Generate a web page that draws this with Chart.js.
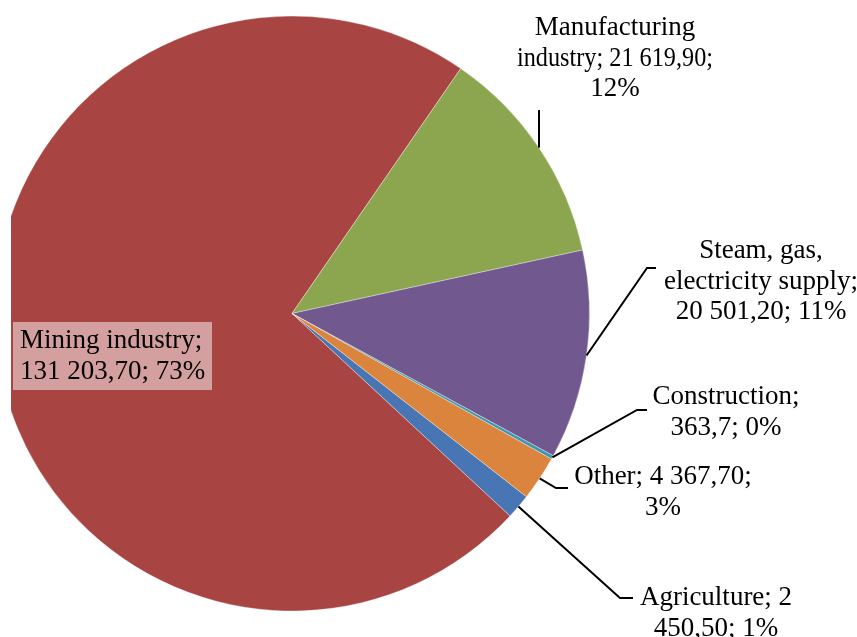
<!DOCTYPE html>
<html>
<head>
<meta charset="utf-8">
<script src="https://cdn.jsdelivr.net/npm/chart.js@4.4.0/dist/chart.umd.min.js"></script>
<style>
  html, body { margin: 0; padding: 0; background: #fff; }
  #wrap { position: relative; width: 857px; height: 637px; }
</style>
</head>
<body>
<div id="wrap"><canvas id="pie-chart" width="857" height="637"></canvas></div>
<script>
// data, in the order the slices go round (clockwise from the rotation angle)
var categories = ['Agriculture', 'Mining industry', 'Manufacturing industry',
                  'Steam, gas, electricity supply', 'Construction', 'Other'];
var values = [2450.5, 131203.7, 21619.9, 20501.2, 363.7, 4367.7];
var labelLines = [
    ['Agriculture; 2', '450,50; 1%'],
    ['Mining industry;', '131 203,70; 73%'],
    ['Manufacturing', 'industry; 21 619,90;', '12%'],
    ['Steam, gas,', 'electricity supply;', '20 501,20; 11%'],
    ['Construction;', '363,7; 0%'],
    ['Other; 4 367,70;', '3%']
];
var sliceColors = ['#4876B4', '#A84543', '#8BA64E', '#71588F', '#3E96B0', '#DB843D'];

// where each label sits and how its leader line bends
var labelPlace = [
    { x: 716, y: 598, align: 'center', elbow: [620, 598], end: [633, 598] },
    { x: 20,  y: 341, align: 'left', box: [13, 322, 199, 68] },
    { x: 615, y: 28,  align: 'center', elbow: [null, 110], squeeze: 0.9 },
    { x: 761, y: 251, align: 'center', elbow: [647, 268], end: [656, 268] },
    { x: 726, y: 397, align: 'center', elbow: [637, 410], end: [647, 410] },
    { x: 663, y: 477, align: 'center', elbow: [556, 488], end: [568, 488] }
];

var labelFont = '27px "Liberation Serif", "Times New Roman", serif';
var lineHeight = 30.5;

var clipLeft = {
    id: 'clipLeft',
    beforeDatasetsDraw: function(chart) {
        var ctx = chart.ctx;
        ctx.save();
        ctx.beginPath();
        ctx.rect(11, 0, chart.width - 11, chart.height);
        ctx.clip();
    },
    afterDatasetsDraw: function(chart) {
        chart.ctx.restore();
    }
};

var sliceLabels = {
    id: 'sliceLabels',
    afterDraw: function(chart) {
        var ctx = chart.ctx;
        var arcs = chart.getDatasetMeta(0).data;
        ctx.save();
        ctx.font = labelFont;
        ctx.textBaseline = 'middle';
        arcs.forEach(function(arc, i) {
            var p = labelPlace[i];
            var mid = (arc.startAngle + arc.endAngle) / 2;
            var ax = arc.x + Math.cos(mid) * arc.outerRadius;
            var ay = arc.y + Math.sin(mid) * arc.outerRadius;

            if (p.elbow) {
                var ex = p.elbow[0] === null ? ax : p.elbow[0];
                ctx.strokeStyle = '#000';
                ctx.lineWidth = 2;
                ctx.beginPath();
                ctx.moveTo(ax, ay);
                ctx.lineTo(ex, p.elbow[1]);
                if (p.end) ctx.lineTo(p.end[0], p.end[1]);
                ctx.stroke();
            }
            if (p.box) {
                ctx.fillStyle = '#D4A09F';
                ctx.fillRect(p.box[0], p.box[1], p.box[2], p.box[3]);
            }
            ctx.fillStyle = '#000';
            ctx.textAlign = p.align;
            labelLines[i].forEach(function(line, k) {
                var y = p.y + k * lineHeight;
                if (p.squeeze) {
                    var w = ctx.measureText(line).width;
                    ctx.fillText(line, p.x, y, Math.min(w, 196));
                } else {
                    ctx.fillText(line, p.x, y);
                }
            });
        });
        ctx.restore();
    }
};

new Chart(document.getElementById('pie-chart'), {
    type: 'pie',
    data: {
        labels: categories,
        datasets: [{
            data: values,
            backgroundColor: sliceColors,
            borderColor: 'rgba(255,255,255,0.35)',
            borderWidth: 1,
            radius: 297.5
        }]
    },
    options: {
        responsive: false,
        animation: false,
        events: [],
        rotation: 128,
        layout: { padding: { left: 0, right: 273, top: 16, bottom: 26 } },
        plugins: {
            legend: { display: false },
            tooltip: { enabled: false }
        }
    },
    plugins: [clipLeft, sliceLabels]
});
</script>
</body>
</html>
